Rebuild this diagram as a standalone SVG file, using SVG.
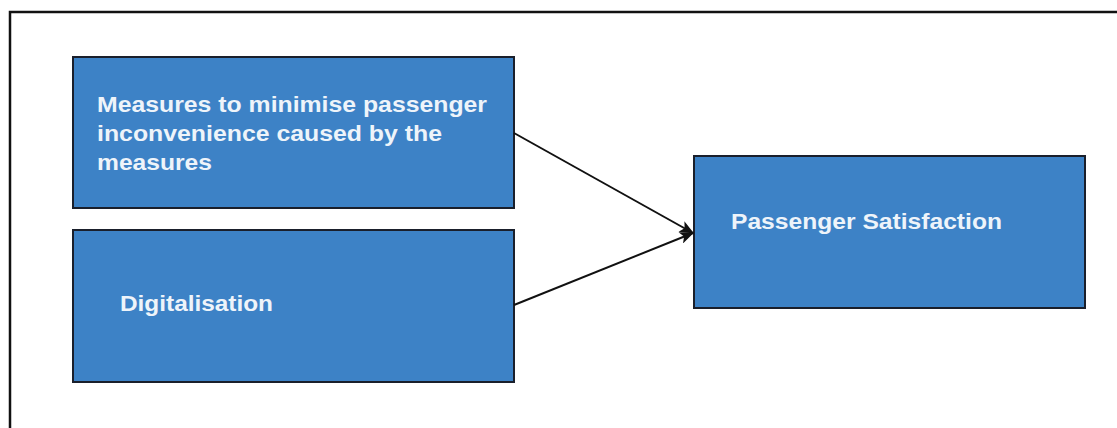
<svg xmlns="http://www.w3.org/2000/svg" width="1117" height="428" viewBox="0 0 1117 428">
<defs>
<style>
.node{fill:#3d82c6;stroke:#1a1f2b;stroke-width:2}
.lbl{font-family:"Liberation Sans",Arial,sans-serif;font-weight:bold;font-size:21.5px;fill:#eef4fa}
.edge{stroke:#111;stroke-width:2;fill:none}
</style>
<marker id="arr" viewBox="0 0 12 10" refX="11" refY="5" markerWidth="15" markerHeight="12" orient="auto" markerUnits="userSpaceOnUse">
<path d="M0,0 L12,5 L0,10 L3,5 z" fill="#111"/>
</marker>
</defs>
<rect width="1117" height="428" fill="#fff"/>
<rect x="10" y="12" width="1120" height="430" fill="none" stroke="#111" stroke-width="2.5"/>
<g id="n1">
<rect class="node" x="73" y="57" width="441" height="151"/>
<text class="lbl" x="97" y="112" textLength="390" lengthAdjust="spacingAndGlyphs">Measures to minimise passenger</text>
<text class="lbl" x="97" y="141" textLength="345" lengthAdjust="spacingAndGlyphs">inconvenience caused by the</text>
<text class="lbl" x="97" y="170" textLength="115" lengthAdjust="spacingAndGlyphs">measures</text>
</g>
<g id="n2">
<rect class="node" x="73" y="230" width="441" height="152"/>
<text class="lbl" x="120" y="311" textLength="153" lengthAdjust="spacingAndGlyphs">Digitalisation</text>
</g>
<g id="n3">
<rect class="node" x="694" y="156" width="391" height="152"/>
<text class="lbl" x="731" y="229" textLength="271" lengthAdjust="spacingAndGlyphs">Passenger Satisfaction</text>
</g>
<g id="edges">
<line class="edge" x1="514" y1="133" x2="693" y2="233" marker-end="url(#arr)"/>
<line class="edge" x1="514" y1="305" x2="693" y2="233" marker-end="url(#arr)"/>
</g>
</svg>
